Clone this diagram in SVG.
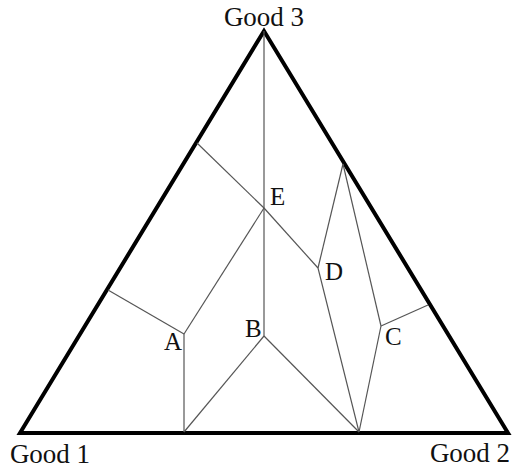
<svg xmlns="http://www.w3.org/2000/svg" width="515" height="468" viewBox="0 0 515 468">
<style>
.tri{fill:none;stroke:#000;stroke-width:4;stroke-linejoin:miter}
.ln{fill:none;stroke:#555;stroke-width:1.2}
.lbl{font-family:"Liberation Serif","Times New Roman",serif;fill:#111}
.good{font-size:27px}
.pt{font-size:25px}
</style>
<rect width="515" height="468" fill="#fff"/>
<g id="triangle">
<polygon class="tri" points="20,433 264,31 508,433"/>
</g>
<g id="connectors">
<line class="ln" x1="264" y1="31" x2="264" y2="336"/>
<line class="ln" x1="197" y1="143" x2="264" y2="208"/>
<line class="ln" x1="264" y1="208" x2="318" y2="268"/>
<line class="ln" x1="264" y1="208" x2="184" y2="334"/>
<line class="ln" x1="108" y1="290" x2="184" y2="334"/>
<line class="ln" x1="184" y1="334" x2="184" y2="432"/>
<line class="ln" x1="184" y1="432" x2="264" y2="336"/>
<line class="ln" x1="264" y1="336" x2="359" y2="432"/>
<line class="ln" x1="318" y1="268" x2="359" y2="432"/>
<line class="ln" x1="318" y1="268" x2="343" y2="164"/>
<line class="ln" x1="343" y1="164" x2="381" y2="326"/>
<line class="ln" x1="381" y1="326" x2="428" y2="305"/>
<line class="ln" x1="381" y1="326" x2="359" y2="432"/>
</g>
<g id="good3"><text class="lbl good" x="264" y="26" text-anchor="middle">Good 3</text></g>
<g id="good1"><text class="lbl good" x="50" y="463" text-anchor="middle">Good 1</text></g>
<g id="good2"><text class="lbl good" x="470" y="462" text-anchor="middle">Good 2</text></g>
<g id="A"><text class="lbl pt" x="164" y="350">A</text></g>
<g id="B"><text class="lbl pt" x="245" y="337">B</text></g>
<g id="C"><text class="lbl pt" x="385" y="345">C</text></g>
<g id="D"><text class="lbl pt" x="325" y="280">D</text></g>
<g id="E"><text class="lbl pt" x="270" y="205">E</text></g>
</svg>
